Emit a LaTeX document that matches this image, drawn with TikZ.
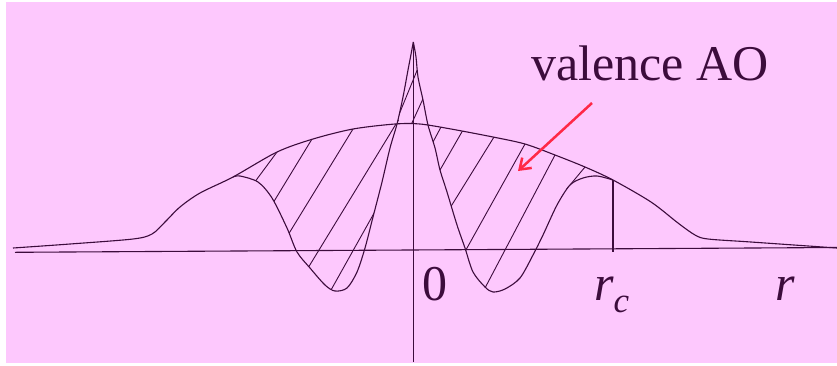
\documentclass[tikz,border=0pt]{standalone}
\usepackage{fontspec}
\setmainfont{Liberation Serif}
\usetikzlibrary{arrows.meta}
\definecolor{bgpink}{RGB}{253,200,253}
\definecolor{ink}{RGB}{60,12,60}
\definecolor{arrowred}{RGB}{255,40,70}
\tikzset{
  curve/.style={draw=ink, line width=1.1pt, line join=round},
  axis/.style={draw=ink, line width=1.1pt},
  hatch/.style={draw=ink, line width=0.9pt, shorten <=-5pt, shorten >=-5pt},
  tick/.style={draw=ink, line width=2.4pt},
  lbl/.style={font=\fontsize{50}{60}\selectfont, text=ink, inner sep=0pt, anchor=base west},
  redarrow/.style={draw=arrowred, line width=2.5pt, -{Straight Barb[length=10pt,width=14pt]}}
}
\begin{document}
\begin{tikzpicture}[x=1pt,y=-1pt]
\useasboundingbox (0,0) rectangle (837,365);
\fill[white] (0,0) rectangle (837,365);
\fill[bgpink] (6,2) rectangle (837,363);

% axes
\coordinate (xl) at (15,252.3);
\coordinate (xr) at (837,247.5);
\coordinate (yt) at (413.3,42);
\coordinate (yb) at (413.3,362);
\draw[axis] (xl) -- (xr);
\draw[axis] (yt) -- (yb);

% hatching between envelope and inner curve
\begin{scope}[even odd rule]
\clip
  plot[smooth] coordinates {(13,248) (70,244) (133,239) (152,234) (165,222) (180,207) (200,193) (233,177) (277,152) (313,139) (353,129) (395,124) (420,124) (451,129) (493,137) (525,144) (555,155) (585,167) (613,180) (651,202) (678,223) (695,235) (708,239) (751,242) (837,248)}
  -- (837,400) -- (13,400) -- cycle
  plot[smooth] coordinates {(233,177) (240,176) (258,182) (272,198) (287,228) (297,252) (310,268) (325,285) (335,291) (347,288) (357,272) (365,248) (373,217) (382,182) (390,148) (397,124) (403,97) (408,70) (410.5,57) (413.3,42)}
  -- plot[smooth] coordinates {(413.3,42) (416,57) (418,77) (423,100) (428,125) (435,148) (440,170) (447,192) (457,225) (465,248) (473,272) (485,287) (493,292) (505,289) (520,278) (533,255) (543,235) (557,205) (570,185) (583,178) (597,176) (613,180)}
  -- (613,400) -- (233,400) -- cycle;
\draw[hatch] (257,179) -- (277,152);
\draw[hatch] (273,203) -- (312,139);
\draw[hatch] (288,235) -- (353,129);
\draw[hatch] (308,268) -- (396,124);
\draw[hatch] (331,290) -- (373,215);
\draw[hatch] (398,117) -- (416,73);
\draw[hatch] (411,125) -- (422,101);
\draw[hatch] (441,127) -- (433,142);
\draw[hatch] (463,130) -- (440,170);
\draw[hatch] (494,137) -- (450,208);
\draw[hatch] (525,144) -- (467,248);
\draw[hatch] (555,155) -- (485,288);
\draw[hatch] (585,167) -- (570,185);
\end{scope}

% outer envelope with tails
\draw[curve] plot[smooth] coordinates {(13,248) (70,244) (133,239) (152,234) (165,222) (180,207) (200,193) (233,177) (277,152) (313,139) (353,129) (395,124) (420,124) (451,129) (493,137) (525,144) (555,155) (585,167) (613,180) (651,202) (678,223) (695,235) (708,239) (751,242) (837,248)};
% inner oscillating curve
\draw[curve] plot[smooth] coordinates {(233,177) (240,176) (258,182) (272,198) (287,228) (297,252) (310,268) (325,285) (335,291) (347,288) (357,272) (365,248) (373,217) (382,182) (390,148) (397,124) (403,97) (408,70) (410.5,57) (413.3,42)};
\draw[curve] plot[smooth] coordinates {(413.3,42) (416,57) (418,77) (423,100) (428,125) (435,148) (440,170) (447,192) (457,225) (465,248) (473,272) (485,287) (493,292) (505,289) (520,278) (533,255) (543,235) (557,205) (570,185) (583,178) (597,176) (613,180)};

% r_c tick
\coordinate (rcT) at (613,180);
\coordinate (rcB) at (613,252);
\draw[tick] (rcT) -- (rcB);

% red arrow
\coordinate (arrS) at (592,103);
\coordinate (arrE) at (518,171);
\draw[redarrow] (arrS) -- (arrE);

% labels
\node[lbl] (val) at (531,80) {valence AO};
\node[lbl] (zero) at (422,300) {0};
\node[lbl] (rc) at (594,300) {\itshape r\raisebox{-12pt}{\fontsize{35}{40}\selectfont c}};
\node[lbl] (r) at (775,300) {\itshape r};
\end{tikzpicture}
\end{document}
